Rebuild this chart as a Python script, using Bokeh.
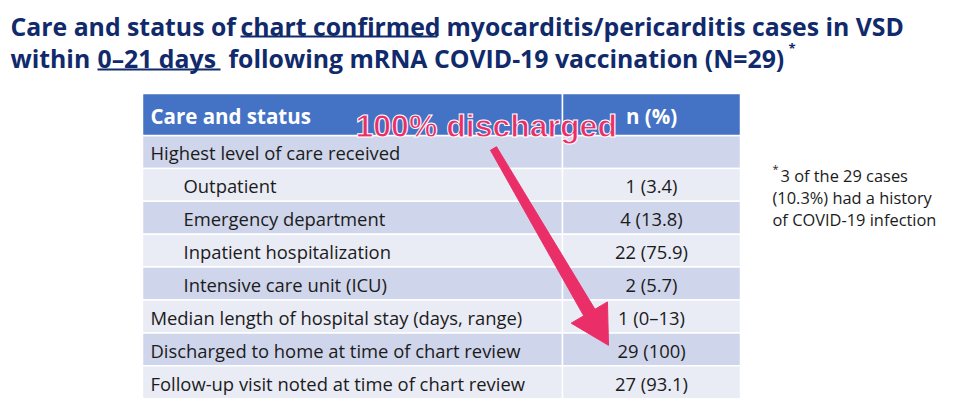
import numpy as np
from bokeh.plotting import figure
from bokeh.models import Range1d, ColumnDataSource
from bokeh.core.properties import value
from bokeh.embed import file_html
from bokeh.resources import INLINE

# ---------------- data ----------------
title_line1 = ["Care and status of", "chart confirmed", "myocarditis/pericarditis cases in VSD"]
title_line2 = ["within", "0\u201321 days", "following mRNA COVID-19 vaccination (N=29)"]
title_mark = "*"
header_labels = ["Care and status", "n (%)"]
row_labels = [
    "Highest level of care received",
    "Outpatient",
    "Emergency department",
    "Inpatient hospitalization",
    "Intensive care unit (ICU)",
    "Median length of hospital stay (days, range)",
    "Discharged to home at time of chart review",
    "Follow-up visit noted at time of chart review",
]
row_indent = [0, 1, 1, 1, 1, 0, 0, 0]
row_values = ["", "1 (3.4)", "4 (13.8)", "22 (75.9)", "2 (5.7)", "1 (0\u201313)", "29 (100)", "27 (93.1)"]
footnote_lines = ["3 of the 29 cases", "(10.3%) had a history", "of COVID-19 infection"]
callout = "100% discharged"
callout_row = 6  # row the arrow points to

# ---------------- styles / layout ----------------
FONT = "Open Sans"
NAVY = "#102A6B"
BLUE = "#4472C4"
DARK = "#CFD5EA"
LIGHT = "#E9EBF5"
TXT = "#1B1B1B"
PINK = "#EA2F68"

X0, XD, X1 = 142, 562, 740
HDR_TOP, HDR_H, ROW_H = 93, 42, 32.9

p = figure(width=960, height=410, output_backend="svg", toolbar_location=None,
           x_range=Range1d(0, 960), y_range=Range1d(410, 0), min_border=0)
p.axis.visible = False
p.grid.visible = False
p.outline_line_color = None
p.background_fill_color = "white"
p.border_fill_color = "white"

# ---------------- title ----------------
t_x1 = [10, 240, 446]
t_x2 = [10, 97, 228]
p.text(x=t_x1, y=[25.5] * 3, text=title_line1, text_font=value(FONT), text_font_style="bold",
       text_font_size="24.8px", text_color=NAVY, text_baseline="middle")
p.text(x=t_x2, y=[57.5] * 3, text=title_line2, text_font=value(FONT), text_font_style="bold",
       text_font_size="24.8px", text_color=NAVY, text_baseline="middle")
p.text(x=[788], y=[47], text=[title_mark], text_font=value(FONT), text_font_style="bold",
       text_font_size="13px", text_color=NAVY, text_baseline="middle")
p.segment(x0=[240, 97], y0=[36, 69], x1=[437, 220], y1=[36, 69], line_color=NAVY, line_width=2)

# ---------------- table ----------------
n = len(row_labels)
tops = [HDR_TOP + HDR_H + i * ROW_H for i in range(n)]
bottoms = [t + ROW_H for t in tops]
fills = [DARK if i % 2 == 0 else LIGHT for i in range(n)]
cells = ColumnDataSource(dict(
    left=[X0] * n + [XD] * n, right=[XD] * n + [X1] * n,
    top=tops * 2, bottom=bottoms * 2, fill=fills * 2))
p.quad(left="left", right="right", top="top", bottom="bottom", fill_color="fill",
       source=cells, line_color="white", line_width=1.5)
p.quad(left=[X0, XD], right=[XD, X1], top=[HDR_TOP] * 2, bottom=[HDR_TOP + HDR_H] * 2,
       fill_color=BLUE, line_color="white", line_width=1.5)

hy = HDR_TOP + HDR_H / 2 + 1
p.text(x=[150], y=[hy], text=[header_labels[0]], text_font=value(FONT), text_font_style="bold",
       text_font_size="20.5px", text_color="white", text_baseline="middle")
p.text(x=[(XD + X1) / 2], y=[hy], text=[header_labels[1]], text_font=value(FONT),
       text_font_style="bold", text_font_size="20.5px", text_color="white",
       text_baseline="middle", text_align="center")

cy = [(t + b) / 2 + 1 for t, b in zip(tops, bottoms)]
lx = [150 + 33 * k for k in row_indent]
p.text(x=lx, y=cy, text=row_labels, text_font=value(FONT), text_font_size="18.4px",
       text_color=TXT, text_baseline="middle")
p.text(x=[(XD + X1) / 2] * n, y=cy, text=row_values, text_font=value(FONT),
       text_font_size="18.4px", text_color=TXT, text_baseline="middle", text_align="center")

# ---------------- footnote ----------------
p.text(x=[772], y=[168], text=["*"], text_font=value(FONT), text_font_size="11px",
       text_color=TXT, text_baseline="middle")
p.text(x=[780, 772, 772], y=[174.5, 196.5, 218.5], text=footnote_lines, text_font=value(FONT),
       text_font_size="16.4px", text_color=TXT, text_baseline="middle")

# ---------------- arrow + callout ----------------
S = np.array([493.0, 148.0])
T = np.array([608.0, cy[callout_row] - 5])
u = (T - S) / np.linalg.norm(T - S)
nv = np.array([-u[1], u[0]])
B = T - 38 * u
pts = [S + nv * 3.5, B + nv * 6.5, B + nv * 21, T, B - nv * 21, B - nv * 6.5, S - nv * 3.5]
p.patch(x=[q[0] for q in pts], y=[q[1] for q in pts], fill_color=PINK, line_color=PINK,
        line_width=1)

p.text(x=[355], y=[125], text=[callout], text_font=value("Liberation Sans"),
       text_font_style="bold", text_font_size="32px", text_color=PINK,
       text_outline_color="white", text_baseline="middle")

open("out.html", "w").write(file_html(p, INLINE))
